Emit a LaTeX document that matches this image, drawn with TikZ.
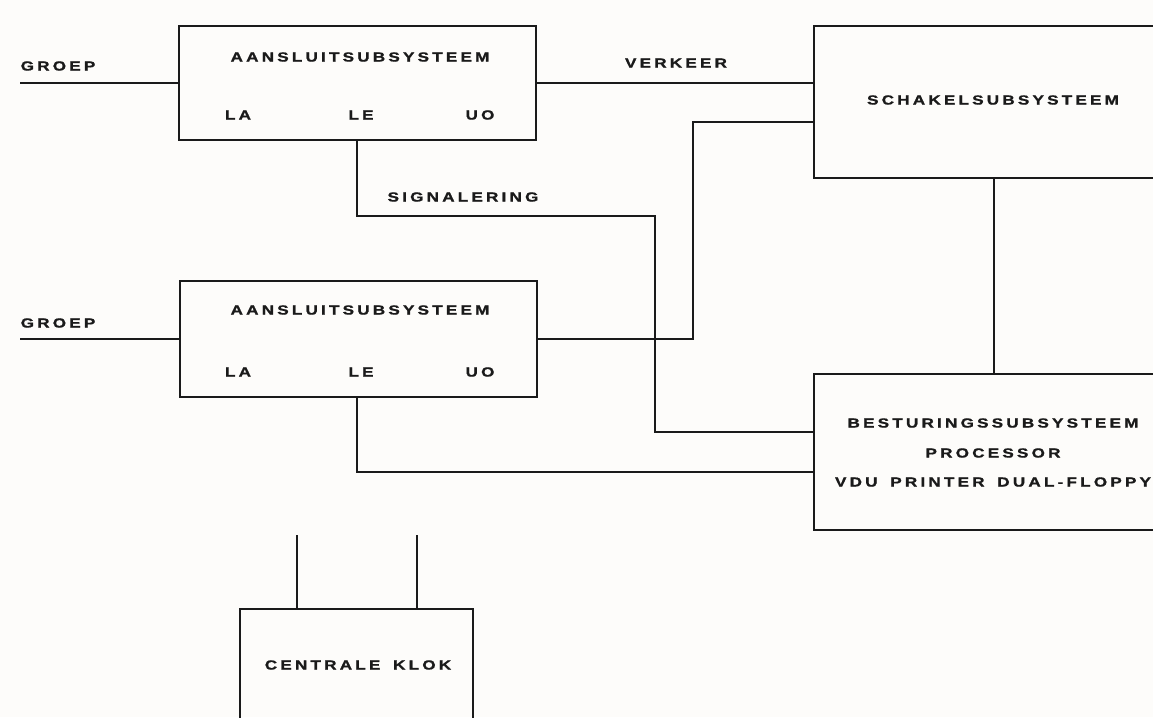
\documentclass[tikz,border=0pt]{standalone}
\usepackage{fontspec}
\newfontfamily\lblfamily{Liberation Sans}[FakeStretch=1.3, LetterSpace=24, WordSpace=1.6, BoldFeatures={FakeBold=1.2}]
\definecolor{ink}{HTML}{1A1A1A}
\definecolor{paper}{HTML}{FDFCFA}
\begin{document}
\begin{tikzpicture}[x=1pt,y=-1pt,
  box/.style={draw=ink, line width=2.4pt, rectangle, inner sep=0pt},
  lbl/.style={font=\lblfamily\bfseries\fontsize{13.2}{14}\selectfont, text=ink, inner sep=0pt, anchor=center},
  wire/.style={draw=ink, line width=1.6pt, line join=miter}]
  % page
  \useasboundingbox (0,0) rectangle (1153,717);
  \fill[paper] (0,0) rectangle (1153,717);
  \clip (0,0) rectangle (1153,717);

  % blocks
  \node[box, minimum width=357pt, minimum height=114pt] (a1) at (357.5,83) {};
  \node[box, minimum width=357pt, minimum height=116pt] (a2) at (358.5,339) {};
  \node[box, minimum width=360pt, minimum height=152pt] (sch) at (994,102) {};
  \node[box, minimum width=360pt, minimum height=156pt] (bes) at (994,452) {};
  \node[box, minimum width=233pt, minimum height=152pt] (klok) at (356.5,685) {};

  % block texts
  \node[lbl] (a1t) at (360,57) {AANSLUITSUBSYSTEEM};
  \node[lbl] (a1la) at (238,115) {LA};
  \node[lbl] (a1le) at (361,115) {LE};
  \node[lbl] (a1uo) at (480,115) {UO};
  \node[lbl] (a2t) at (360,310) {AANSLUITSUBSYSTEEM};
  \node[lbl] (a2la) at (238,372) {LA};
  \node[lbl] (a2le) at (361,372) {LE};
  \node[lbl] (a2uo) at (480,372) {UO};
  \node[lbl] (scht) at (993,100) {SCHAKELSUBSYSTEEM};
  \node[lbl] (best1) at (993,423) {BESTURINGSSUBSYSTEEM};
  \node[lbl] (best2) at (993,453) {PROCESSOR};
  \node[lbl] (best3) at (993,482) {VDU PRINTER DUAL-FLOPPY};
  \node[lbl] (klokt) at (358,665) {CENTRALE KLOK};

  % connector labels
  \node[lbl] (g1) at (58,66) {GROEP};
  \node[lbl] (g2) at (58,323) {GROEP};
  \node[lbl] (verk) at (676,63) {VERKEER};
  \node[lbl] (sign) at (463,197) {SIGNALERING};

  % free ends and bends
  \coordinate (g1end) at (20,83);
  \coordinate (g2end) at (20,339);
  \coordinate (a1le) at (357,140);
  \coordinate (a2le) at (357,397);
  \coordinate (k1) at (297,609);
  \coordinate (k2) at (417,609);
  \coordinate (k1end) at (297,535);
  \coordinate (k2end) at (417,535);

  % connectors
  \draw[wire] (g1end) -- (a1.west);
  \draw[wire] (g2end) -- (a2.west);
  \draw[wire] (a1.east) -- (a1.east -| sch.west);
  \draw[wire] (a2.east) -- (693,339) -- (693,122) -- (sch.west |- 0,122);
  \draw[wire] (a1le) -- (357,216) -- (655,216) -- (655,432) -- (bes.west |- 0,432);
  \draw[wire] (a2le) -- (357,472) -- (bes.west |- 0,472);
  \draw[wire] (sch.south) -- (bes.north);
  \draw[wire] (k1) -- (k1end);
  \draw[wire] (k2) -- (k2end);
\end{tikzpicture}
\end{document}
